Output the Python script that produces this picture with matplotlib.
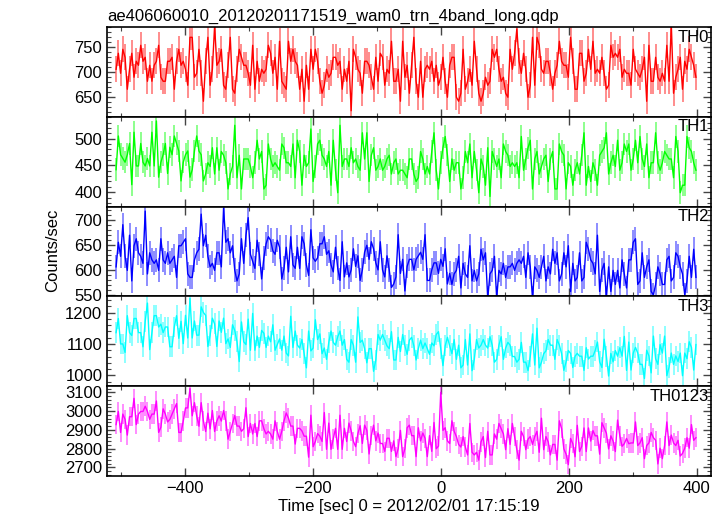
import matplotlib
matplotlib.use("Agg")
import matplotlib.pyplot as plt
import numpy as np
from matplotlib.ticker import MultipleLocator

plt.rcParams['font.family'] = ['Liberation Sans', 'DejaVu Sans']
plt.rcParams['font.size'] = 12

# --- DATA (3.5 s bins) ---
time_start, time_step, n_bins = -508, 3.5, 260
time = time_start + time_step * np.arange(n_bins)

th0 = [705, 737, 697, 745, 729, 665, 705, 737, 689, 721,
       713, 753, 721, 729, 681, 713, 681, 713, 721, 753,
       689, 681, 681, 721, 721, 729, 665, 721, 745, 713,
       721, 705, 673, 769, 769, 689, 697, 745, 697, 641,
       721, 769, 673, 705, 792, 713, 721, 745, 673, 665,
       713, 769, 665, 657, 705, 745, 729, 713, 713, 697,
       673, 753, 665, 721, 681, 705, 697, 705, 753, 737,
       697, 729, 665, 761, 681, 673, 665, 761, 721, 745,
       721, 713, 665, 705, 641, 713, 665, 745, 705, 745,
       721, 681, 657, 673, 705, 689, 697, 729, 729, 713,
       721, 665, 705, 681, 721, 622, 745, 729, 705, 697,
       657, 721, 721, 713, 689, 665, 729, 681, 737, 729,
       673, 705, 697, 761, 681, 681, 705, 641, 761, 689,
       713, 657, 713, 769, 681, 649, 721, 649, 705, 713,
       705, 721, 681, 713, 673, 689, 729, 681, 649, 713,
       729, 729, 649, 641, 657, 745, 665, 681, 705, 673,
       761, 705, 657, 641, 657, 689, 673, 681, 745, 729,
       745, 705, 681, 689, 657, 649, 745, 705, 737, 786,
       721, 697, 737, 705, 649, 673, 769, 673, 769, 753,
       705, 697, 721, 721, 697, 665, 697, 713, 761, 721,
       713, 713, 689, 769, 721, 665, 665, 737, 737, 681,
       697, 745, 705, 761, 697, 705, 697, 729, 697, 665,
       673, 753, 729, 737, 729, 745, 689, 705, 697, 697,
       673, 745, 705, 697, 689, 705, 729, 641, 753, 681,
       681, 729, 689, 681, 697, 681, 753, 681, 795, 657,
       689, 705, 729, 665, 721, 705, 745, 729, 713, 689]

th1 = [442, 505, 470, 463, 456, 470, 491, 414, 512, 449,
       449, 491, 456, 449, 463, 449, 512, 449, 533, 428,
       456, 470, 491, 435, 484, 470, 505, 491, 477, 421,
       456, 470, 477, 428, 442, 477, 505, 477, 470, 421,
       434, 455, 448, 483, 434, 483, 441, 476, 469, 455,
       406, 434, 448, 525, 427, 469, 406, 462, 462, 462,
       448, 427, 455, 497, 462, 476, 406, 413, 490, 462,
       448, 455, 448, 441, 490, 483, 455, 455, 448, 490,
       427, 497, 476, 413, 469, 448, 455, 518, 420, 448,
       490, 497, 469, 462, 448, 476, 413, 497, 441, 399,
       525, 448, 462, 462, 448, 483, 455, 462, 448, 441,
       511, 462, 511, 420, 469, 483, 441, 448, 462, 441,
       448, 462, 469, 434, 455, 462, 434, 441, 441, 434,
       427, 462, 462, 434, 420, 427, 476, 462, 434, 448,
       434, 476, 511, 441, 406, 455, 483, 504, 469, 420,
       462, 441, 455, 455, 406, 427, 476, 455, 490, 427,
       476, 441, 399, 462, 448, 413, 483, 392, 476, 462,
       448, 462, 427, 490, 476, 469, 448, 455, 448, 455,
       427, 504, 441, 462, 483, 497, 406, 462, 476, 434,
       448, 462, 469, 420, 462, 476, 406, 406, 490, 476,
       469, 406, 455, 448, 413, 441, 455, 434, 469, 511,
       413, 448, 420, 455, 441, 413, 469, 476, 483, 511,
       434, 455, 469, 448, 497, 441, 455, 490, 476, 490,
       441, 462, 497, 455, 504, 462, 448, 490, 427, 455,
       455, 511, 455, 441, 455, 476, 469, 462, 462, 427,
       504, 476, 399, 413, 413, 504, 483, 476, 455, 441]

th2 = [607, 656, 628, 691, 628, 600, 670, 579, 649, 663,
       635, 628, 614, 718, 593, 635, 621, 614, 621, 600,
       663, 621, 614, 635, 614, 621, 628, 586, 649, 649,
       656, 663, 593, 586, 586, 621, 635, 642, 712, 649,
       670, 628, 607, 614, 600, 635, 635, 607, 724, 656,
       663, 635, 649, 600, 579, 593, 663, 614, 670, 705,
       632, 618, 604, 660, 632, 583, 625, 653, 667, 660,
       639, 632, 660, 646, 583, 604, 646, 597, 667, 611,
       604, 646, 604, 667, 653, 611, 590, 681, 625, 618,
       625, 653, 653, 667, 632, 639, 611, 597, 646, 604,
       580, 657, 587, 615, 587, 601, 643, 608, 629, 580,
       601, 636, 650, 622, 657, 643, 615, 601, 657, 601,
       587, 629, 601, 566, 573, 587, 671, 594, 622, 559,
       608, 622, 622, 601, 622, 629, 636, 622, 671, 580,
       580, 601, 615, 615, 594, 622, 608, 643, 573, 594,
       572, 593, 600, 628, 565, 614, 593, 586, 649, 579,
       600, 579, 593, 642, 621, 635, 544, 593, 600, 628,
       544, 600, 593, 614, 586, 607, 607, 614, 600, 614,
       621, 614, 628, 586, 635, 607, 544, 607, 600, 586,
       607, 628, 579, 607, 593, 642, 614, 635, 579, 593,
       635, 607, 649, 558, 614, 579, 586, 635, 579, 586,
       656, 642, 621, 614, 593, 670, 558, 600, 614, 544,
       607, 558, 600, 572, 600, 565, 621, 593, 565, 621,
       621, 656, 663, 572, 579, 635, 586, 607, 621, 558,
       551, 572, 607, 593, 572, 572, 621, 628, 579, 586,
       635, 628, 607, 593, 551, 579, 628, 586, 642, 586]

th3 = [1136, 1181, 1100, 1100, 1073, 1190, 1136, 1127, 1181, 1181,
       1136, 1136, 1091, 1172, 1230, 1082, 1136, 1190, 1190, 1154,
       1163, 1136, 1154, 1154, 1091, 1091, 1154, 1190, 1118, 1172,
       1101, 1191, 1119, 1245, 1119, 1173, 1128, 1128, 1218, 1200,
       1191, 1092, 1128, 1182, 1164, 1092, 1173, 1137, 1182, 1101,
       1116, 1089, 1161, 1143, 1107, 1044, 1170, 1107, 1098, 1179,
       1080, 1197, 1080, 1125, 1089, 1143, 1134, 1089, 1125, 1107,
       1161, 1080, 1098, 1116, 1080, 1125, 1071, 1062, 1188, 1089,
       1141, 1096, 1087, 1114, 1069, 1024, 1141, 1078, 1087, 1177,
       1114, 1132, 1069, 1087, 1051, 1105, 1141, 1105, 1096, 1123,
       1141, 1096, 1114, 1051, 1042, 1114, 1096, 1042, 1186, 1105,
       1112, 1085, 1040, 1085, 1085, 1013, 1049, 1130, 1112, 1130,
       1112, 1094, 1085, 1139, 1049, 1049, 1121, 1076, 1130, 1094,
       1067, 1112, 1121, 1094, 1049, 1085, 1112, 1085, 1103, 1085,
       1067, 1103, 1094, 1130, 1139, 1085, 1031, 1094, 1121, 1094,
       1069, 1114, 1051, 1096, 1024, 1033, 1114, 1033, 1132, 1015,
       1051, 1114, 1087, 1096, 1114, 1096, 1087, 1123, 1096, 1042,
       1051, 1096, 1123, 1051, 1087, 1105, 1096, 1060, 1060, 1042,
       1051, 1105, 1042, 1042, 1015, 1060, 1132, 1033, 1150, 1024,
       1042, 1069, 1078, 1114, 1096, 1096, 1051, 1114, 1096, 1069,
       1016, 1043, 1079, 1070, 1025, 1061, 1070, 1061, 1061, 1016,
       1088, 1052, 1061, 1061, 1079, 1106, 1043, 1025, 1115, 1061,
       998, 1070, 1043, 1079, 1061, 1088, 1061, 1124, 1016, 1106,
       1017, 1071, 1089, 1071, 1035, 1035, 990, 1080, 1062, 1008,
       1125, 1053, 1035, 1098, 1071, 1125, 999, 1026, 1071, 1035,
       1062, 1044, 1071, 999, 1071, 1053, 1107, 1089, 1017, 1098]

th0123 = [2928, 2998, 2886, 2984, 2956, 2872, 2970, 2970, 3068, 2928,
          2984, 2998, 2998, 3026, 2998, 2956, 2984, 2984, 3054, 2886,
          2914, 3012, 2984, 2942, 2956, 2984, 3012, 3040, 2886, 2886,
          2947, 3017, 3017, 3120, 2975, 3045, 2975, 2919, 3045, 2947,
          2891, 2989, 2905, 3003, 2891, 2947, 2975, 2947, 3003, 2947,
          2850, 2892, 2934, 2976, 2920, 2920, 2892, 2906, 3018, 2864,
          2934, 2878, 2934, 2864, 2948, 2948, 2906, 2878, 2892, 2878,
          2850, 2948, 2892, 2850, 2892, 2948, 2990, 2962, 2920, 2920,
          2824, 2908, 2908, 2894, 2866, 2866, 2754, 2978, 2810, 2838,
          2880, 2866, 2838, 2992, 2796, 2936, 2796, 2852, 2908, 2796,
          2978, 2796, 2908, 2838, 2936, 2894, 2838, 2810, 2880, 2922,
          2827, 2925, 2897, 2771, 2869, 2925, 2841, 2883, 2827, 2827,
          2785, 2855, 2855, 2785, 2841, 2757, 2799, 2897, 2757, 2799,
          2911, 2925, 2869, 2869, 2757, 2911, 2841, 2883, 2855, 2757,
          2869, 2785, 2939, 2799, 2813, 3100, 2897, 2911, 2841, 2827,
          2948, 2892, 2864, 2822, 2808, 2864, 2808, 2766, 2934, 2780,
          2766, 2780, 2738, 2836, 2864, 2752, 2892, 2766, 2766, 2878,
          2850, 2934, 2906, 2878, 2794, 2906, 2822, 2934, 2864, 2794,
          2738, 2892, 2864, 2794, 2850, 2864, 2822, 2864, 2892, 2780,
          2962, 2794, 2864, 2836, 2766, 2822, 2822, 2738, 2948, 2906,
          2798, 2770, 2714, 2854, 2826, 2756, 2924, 2784, 2812, 2910,
          2784, 2910, 2840, 2896, 2868, 2868, 2770, 2938, 2910, 2882,
          2798, 2868, 2840, 2784, 2952, 2868, 2812, 2826, 2854, 2826,
          2830, 2830, 2942, 2816, 2830, 2858, 2746, 2816, 2830, 2886,
          2858, 2844, 2718, 2802, 2746, 2816, 2942, 2816, 2872, 2830,
          2816, 2844, 2760, 2774, 2802, 2858, 2802, 2928, 2844, 2858]

band_names = ["TH0", "TH1", "TH2", "TH3", "TH0123"]
band_rates = [th0, th1, th2, th3, th0123]
band_errors = [26, 21, 24, 33, 52]

# --- STYLE ---
colors = ["#ff0000", "#00ff00", "#0000ff", "#00ffff", "#ff00ff"]
ylims = [(610, 790), (373, 541), (548, 727), (965, 1251), (2652, 3132)]
major_steps = [50, 50, 50, 100, 100]
minor_steps = [10, 10, 10, 20, 20]

fig = plt.figure(figsize=(7.24, 5.16), dpi=100)
gs = fig.add_gridspec(5, 1, left=0.148, right=0.982, top=0.948, bottom=0.077, hspace=0)
axes = [fig.add_subplot(gs[i]) for i in range(5)]

for i, ax in enumerate(axes):
    y = np.array(band_rates[i])
    err = band_errors[i]
    ax.vlines(time, y - err, y + err, color=colors[i], alpha=0.45, lw=1.4)
    ax.plot(time, y, color=colors[i], lw=1.0)
    ax.set_xlim(-522, 422)
    ax.set_ylim(*ylims[i])
    ax.xaxis.set_major_locator(MultipleLocator(200))
    ax.xaxis.set_minor_locator(MultipleLocator(100))
    ax.yaxis.set_major_locator(MultipleLocator(major_steps[i]))
    ax.yaxis.set_minor_locator(MultipleLocator(minor_steps[i]))
    ax.tick_params(which='both', direction='in', top=True, right=True, color='#444444')
    ax.tick_params(which='major', length=6, width=1)
    ax.tick_params(which='minor', length=3, width=0.8)
    for sp in ax.spines.values():
        sp.set_linewidth(1.2)
    ax.text(0.997, 0.97, band_names[i], transform=ax.transAxes, ha='right', va='top')
    if i < 4:
        ax.tick_params(labelbottom=False)

axes[0].set_title("ae406060010_20120201171519_wam0_trn_4band_long.qdp", loc='left', pad=4, fontsize=12)
axes[-1].set_xlabel("Time [sec] 0 = 2012/02/01 17:15:19", labelpad=2)
fig.text(0.072, 0.514, "Counts/sec", rotation=90, ha='center', va='center')

plt.savefig("out.png", dpi=100)
